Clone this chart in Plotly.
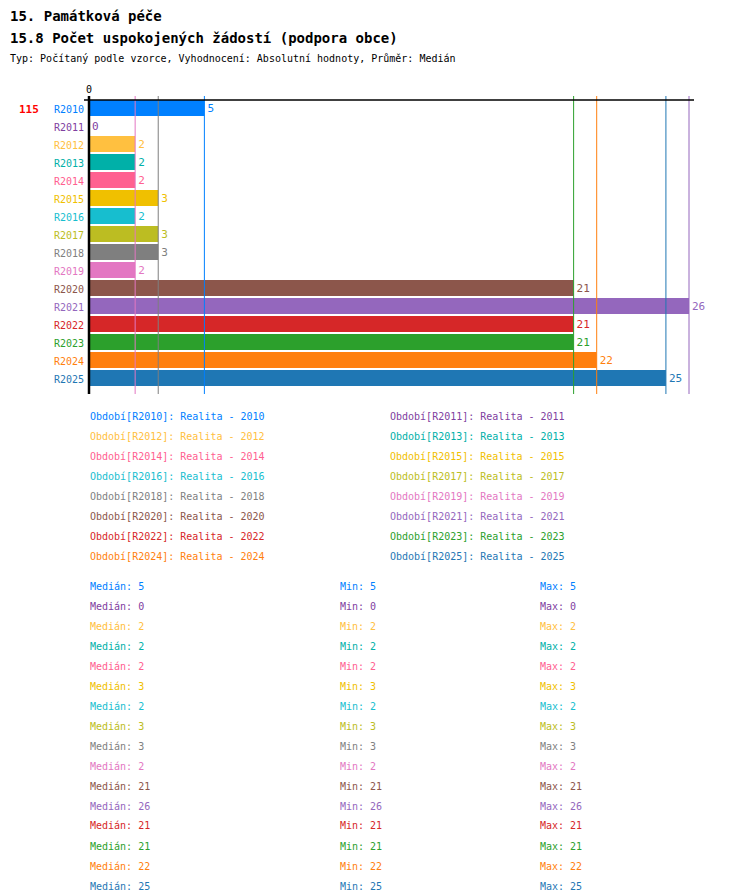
import plotly.graph_objects as go

# ── DATA ──────────────────────────────────────────────
periods = ["R2010", "R2011", "R2012", "R2013", "R2014", "R2015", "R2016", "R2017",
           "R2018", "R2019", "R2020", "R2021", "R2022", "R2023", "R2024", "R2025"]
years = [p[1:] for p in periods]
values = [5, 0, 2, 2, 2, 3, 2, 3, 3, 2, 21, 26, 21, 21, 22, 25]
colors = ["#0080ff", "#8040a0", "#ffc040", "#00b0a8", "#ff6090", "#f0c000", "#17becf", "#bcbd22",
          "#7f7f7f", "#e377c2", "#8c564b", "#9467bd", "#d62728", "#2ca02c", "#ff7f0e", "#1f77b4"]
guide_values = [2, 3, 5, 21, 22, 25, 26]
guide_colors = ["#e377c2", "#7f7f7f", "#0080ff", "#2ca02c", "#ff7f0e", "#1f77b4", "#9467bd"]
total = 115

MONO = "DejaVu Sans Mono"
W, H = 750, 896
L, T, B = 81, 88, 386
PX_PER_UNIT = 600 / 26

def px(x):
    return (x - L) / (W - L)

def py(y):
    return (B - y) / (B - T)

idx = list(range(len(periods)))
fig = go.Figure(go.Bar(
    x=values, y=idx, orientation="h", width=0.89,
    marker=dict(color=colors, line=dict(width=0)),
    text=[str(v) for v in values], textposition="outside",
    textfont=dict(family=MONO, size=11, color=colors),
    cliponaxis=False, hoverinfo="skip",
))

shapes = []
for v, c in zip(guide_values, guide_colors):
    shapes.append(dict(type="line", xref="x", yref="paper", x0=v, x1=v, y0=0, y1=1,
                       line=dict(color=c, width=1), layer="above"))
shapes.append(dict(type="line", xref="paper", yref="paper", x0=px(76), x1=px(686),
                   y0=py(92), y1=py(92), line=dict(color="black", width=1.5)))
shapes.append(dict(type="line", xref="paper", yref="paper", x0=px(81), x1=px(81),
                   y0=0, y1=1, line=dict(color="black", width=2.5)))

ann = []
def text(x, y, s, color="black", size=11, bold=False, anchor="left"):
    ann.append(dict(xref="paper", yref="paper", x=px(x), y=py(y), text=f"<b>{s}</b>" if bold else s,
                    showarrow=False, xanchor=anchor, yanchor="middle",
                    font=dict(family=MONO, size=size, color=color)))

text(0, 8, "15. Památková péče", size=14, bold=True)
text(0, 30, "15.8 Počet uspokojených žádostí (podpora obce)", size=14, bold=True)
text(0, 51, "Typ: Počítaný podle vzorce, Vyhodnocení: Absolutní hodnoty, Průměr: Medián", size=10)
text(81, 82, "0", size=10, anchor="center")
text(9, 101, str(total), color="red", size=11, bold=True)

for i, (p, c) in enumerate(zip(periods, colors)):
    text(78, 101 + 18 * i, p, color=c, size=10, anchor="right")

for i, (p, yr, c) in enumerate(zip(periods, years, colors)):
    x = 80 if i % 2 == 0 else 380
    y = 408 + 20 * (i // 2)
    text(x, y, f"Období[{p}]: Realita - {yr}", color=c, size=10)

for i, (v, c) in enumerate(zip(values, colors)):
    y = 578 + 20 * i
    text(80, y, f"Medián: {v}", color=c, size=10)
    text(330, y, f"Min: {v}", color=c, size=10)
    text(530, y, f"Max: {v}", color=c, size=10)

fig.update_layout(
    width=W, height=H, showlegend=False,
    paper_bgcolor="white", plot_bgcolor="white",
    margin=dict(l=L, r=0, t=T, b=H - B, pad=0),
    xaxis=dict(range=[0, (W - L) / PX_PER_UNIT], visible=False, fixedrange=True),
    yaxis=dict(range=[(B - 100) / 18, (T - 100) / 18], visible=False, fixedrange=True),
    shapes=shapes, annotations=ann,
)

fig.write_html("out.html")
